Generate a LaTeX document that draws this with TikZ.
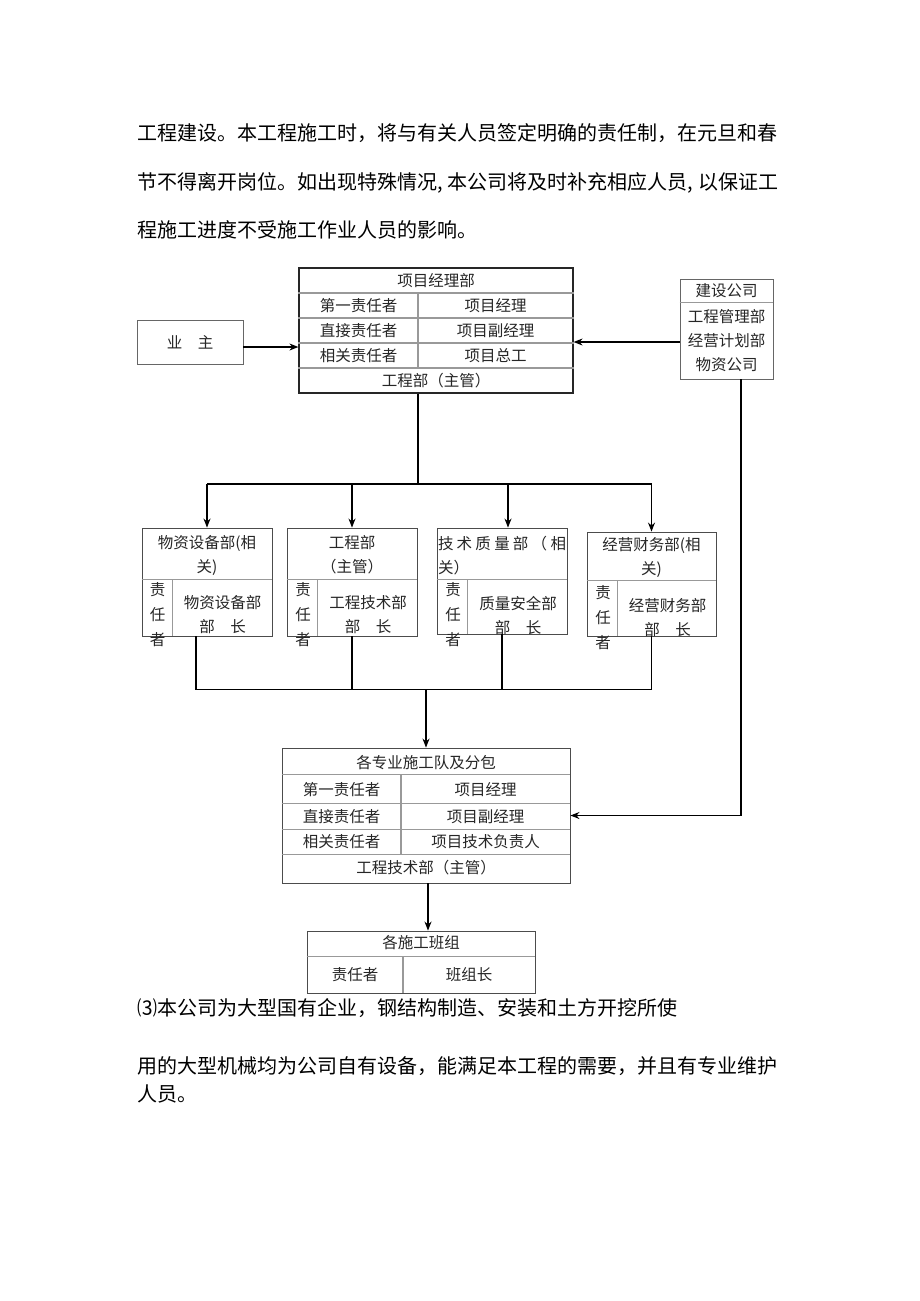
\documentclass[tikz,border=0pt]{standalone}
\usepackage{fontspec}
\setmainfont{Noto Sans CJK SC}
\usetikzlibrary{arrows.meta}

\tikzset{
	frame/.style={draw=black!85,line width=0.9pt,inner sep=0pt},
	sepline/.style={draw=black!40,line width=1.4pt},
	cell/.style={inner sep=0pt,text=black!85,font=\fontsize{15.5}{24}\selectfont,align=center},
	para/.style={anchor=west,inner sep=0pt,font=\fontsize{20}{24}\selectfont},
	link/.style={line width=1.1pt},
	arr/.style={link,-{Stealth[length=9pt,width=7pt]}}
}

\begin{document}
\begin{tikzpicture}[x=1pt,y=-1pt]
	\useasboundingbox[fill=white] (0,0) rectangle (920,1301);
	% text before the chart
	\node[para] (t1) at (137,133) {工程建设。本工程施工时，将与有关人员签定明确的责任制，在元旦和春};
	\node[para] (t2) at (137,183) {\makebox[641pt][s]{节不得离开岗位。如出现特殊情况, 本公司将及时补充相应人员, 以保证工}};
	\node[para] (t3) at (137,230) {程施工进度不受施工作业人员的影响。};

	% project manager office
	\node[frame,line width=1.2pt,minimum width=274pt,minimum height=125pt] (A) at (436,330.5) {};
	\foreach \dy in {25.5,50.5,75.5,100.5}
		\draw[sepline] ([yshift=-\dy pt]A.north west) -- ([yshift=-\dy pt]A.north east);
	\draw[sepline] (418,294) -- (418,369);
	\node[cell] (a0) at (436,281) {项目经理部};
	\node[cell] (a1l) at (358.5,306) {第一责任者};
	\node[cell] (a1r) at (495.5,306) {项目经理};
	\node[cell] (a2l) at (358.5,331) {直接责任者};
	\node[cell] (a2r) at (495.5,331) {项目副经理};
	\node[cell] (a3l) at (358.5,356) {相关责任者};
	\node[cell] (a3r) at (495.5,356) {项目总工};
	\node[cell] (a4) at (436,381) {工程部（主管）};

	% owner and company
	\node[frame,draw=black!60,minimum width=106pt,minimum height=44pt] (yz) at (190,342) {};
	\node[cell] (yzt) at (yz) {业　主};
	\node[frame,draw=black!60,minimum width=93pt,minimum height=100pt] (js) at (726.5,329) {};
	\draw[sepline] ([yshift=-24pt]js.north west) -- ([yshift=-24pt]js.north east);
	\node[cell] (js0) at (726.5,291) {建设公司};
	\node[cell] (js1) at (726.5,341) {工程管理部\\经营计划部\\物资公司};

	\draw[arr] ([yshift=-5pt]yz.east) -- ([yshift=-5pt]yz.east -| A.west);
	\draw[arr] ([yshift=-13pt]js.west) -- ([yshift=-13pt]js.west -| A.east);

	% departments
	\node[frame,draw=black!70,minimum width=130pt,minimum height=108pt] (D1) at (207,582) {};
	\node[frame,draw=black!70,minimum width=130pt,minimum height=108pt] (D2) at (352,582) {};
	\node[frame,draw=black!70,minimum width=130pt,minimum height=106pt] (D3) at (502,581) {};
	\node[frame,draw=black!70,minimum width=129pt,minimum height=104pt] (D4) at (651.5,584) {};
	\foreach \d/\dy in {D1/52,D2/52,D3/52,D4/49}{
		\draw[sepline] ([yshift=-\dy pt]\d.north west) -- ([yshift=-\dy pt]\d.north east);
		\draw[sepline] ([xshift=31pt,yshift=-\dy pt]\d.north west) -- ([xshift=31pt]\d.south west);
	}
	\node[cell] (d1h) at (207,555) {物资设备部(相\\关)};
	\node[cell] (d2h) at (352,555) {工程部\\（主管）};
	\node[cell,align=left] (d3h) at (502,555.5) {\makebox[128pt][s]{技\hfil 术\hfil 质\hfil 量\hfil 部\hfil （\hfil 相}\\关）};
	\node[cell] (d4h) at (651.5,557.5) {经营财务部(相\\关)};
	\node[cell,font=\fontsize{15.5}{25}\selectfont] (d1a) at (157.5,615) {责\\任\\者};
	\node[cell,font=\fontsize{15.5}{25}\selectfont] (d2a) at (303,615) {责\\任\\者};
	\node[cell,font=\fontsize{15.5}{25}\selectfont] (d3a) at (453,615) {责\\任\\者};
	\node[cell,font=\fontsize{15.5}{25}\selectfont] (d4a) at (603,618) {责\\任\\者};
	\node[cell] (d1b) at (222.5,615) {物资设备部\\部　长};
	\node[cell] (d2b) at (368,615) {工程技术部\\部　长};
	\node[cell] (d3b) at (518,615.5) {质量安全部\\部　长};
	\node[cell] (d4b) at (667.5,618) {经营财务部\\部　长};

	\coordinate (top) at (418,484);
	\draw[link] (A.south -| top) -- (top);
	\draw[link] (D1.north |- top) -- (D4.north |- top);
	\foreach \d in {D1,D2,D4}
		\draw[arr] (\d.north |- top) -- (\d.north);
	\draw[arr] ([xshift=6pt]D3.north |- top) -- ([xshift=6pt]D3.north);

	% teams and subcontractors
	\node[frame,draw=black!70,minimum width=288pt,minimum height=135pt] (B) at (426,815.5) {};
	\foreach \dy in {27,56,82,107}
		\draw[sepline] ([yshift=-\dy pt]B.north west) -- ([yshift=-\dy pt]B.north east);
	\draw[sepline] (401,775) -- (401,855);
	\node[cell] (b0) at (426,763) {各专业施工队及分包};
	\node[cell] (b1l) at (341.5,790) {第一责任者};
	\node[cell] (b1r) at (485.5,790) {项目经理};
	\node[cell] (b2l) at (341.5,817) {直接责任者};
	\node[cell] (b2r) at (485.5,817) {项目副经理};
	\node[cell] (b3l) at (341.5,842) {相关责任者};
	\node[cell] (b3r) at (485.5,842) {项目技术负责人};
	\node[cell] (b4) at (426,868) {工程技术部（主管）};

	\coordinate (bus) at (426,689);
	\draw[link] ([xshift=-11pt]D1.south) -- ++(0,53) -| (D4.south);
	\draw[link] (D2.south) -- (D2.south |- bus);
	\draw[link] (D3.south) -- (D3.south |- bus);
	\draw[arr] (bus) -- (bus |- B.north);
	\draw[arr] ([xshift=14.5pt]js.south) |- (B.east);

	% work teams
	\node[frame,draw=black!70,minimum width=228pt,minimum height=62pt] (C) at (421,962) {};
	\draw[sepline] ([yshift=-26pt]C.north west) -- ([yshift=-26pt]C.north east);
	\draw[sepline] (403,957) -- (403,993);
	\node[cell] (c0) at (421,943) {各施工班组};
	\node[cell] (c1) at (355,975) {责任者};
	\node[cell] (c2) at (469,975) {班组长};
	\draw[arr] ([xshift=2pt]B.south) -- ([xshift=2pt]B.south |- C.north);

	% text after the chart
	\node[para] (t4) at (137,1008) {⑶本公司为大型国有企业，钢结构制造、安装和土方开挖所使};
	\node[para] (t5) at (137,1066) {用的大型机械均为公司自有设备，能满足本工程的需要，并且有专业维护};
	\node[para] (t6) at (137,1094) {人员。};
\end{tikzpicture}
\end{document}
